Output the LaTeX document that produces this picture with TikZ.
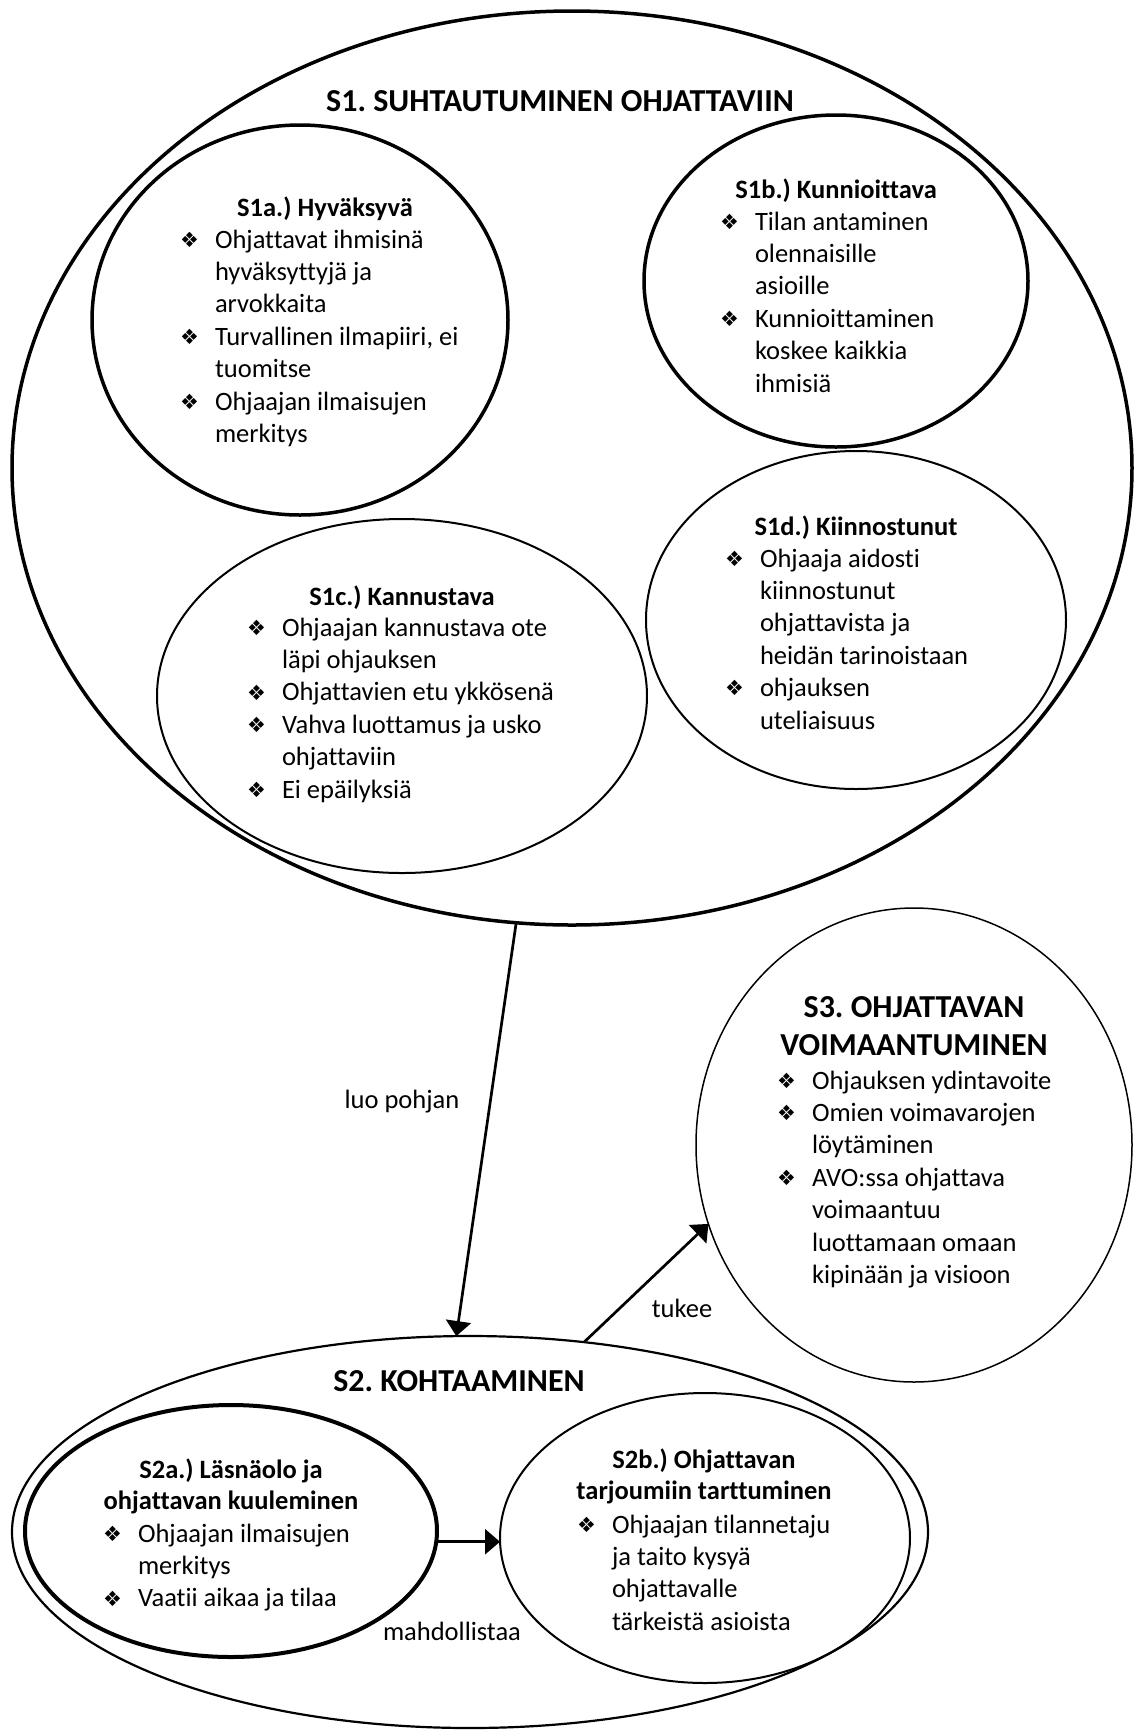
\documentclass[tikz,border=0pt]{standalone}
\usepackage{fontspec}
\setmainfont{Carlito}[Ligatures=CommonOff]
\newfontfamily\dingfont{DejaVu Sans}
\usetikzlibrary{shapes.geometric,arrows.meta}
\frenchspacing

% bullet and continuation indent for the item lists
\newcommand\bl{\makebox[17.5pt][l]{\raisebox{0.4pt}{\dingfont\fontsize{10.5}{10.5}\selectfont ❖}}}
\newcommand\ct{\hspace*{17.5pt}}
\newcommand\lines[1]{\begin{tabular}[t]{@{}l@{}}#1\end{tabular}}
\newcommand\clines[1]{\begin{tabular}[t]{@{}c@{}}#1\end{tabular}}

\tikzset{
  every node/.style={inner sep=0pt, outer sep=0pt},
  oval/.style={ellipse, draw, inner sep=0pt},
  body/.style={font=\fontsize{13.25}{16.2}\selectfont, anchor=base west},
  head/.style={font=\fontsize{13.25}{15.5}\selectfont\bfseries, anchor=base},
  big/.style={font=\fontsize{16}{19}\selectfont\bfseries, anchor=base},
  lbl/.style={font=\fontsize{13.25}{16.2}\selectfont, anchor=base},
  link/.style={line width=1.35pt, -{Triangle[length=7.5pt,width=12.5pt]}},
}

\begin{document}
\begin{tikzpicture}[x=0.5pt, y=-0.5pt]
  \fill[white] (0,0) rectangle (1135,1731);
  \useasboundingbox (0,0) rectangle (1135,1731);

  % S1 group
  \node[oval, line width=1.75pt, minimum width=560pt, minimum height=457pt] (s1) at (572,468) {};
  \node[oval, line width=1.75pt, minimum width=208pt, minimum height=195pt] (s1a) at (300,320) {};
  \node[oval, line width=1.75pt, minimum width=192pt, minimum height=166pt] (s1b) at (836,281) {};
  \node[oval, line width=1pt, minimum width=245pt, minimum height=177pt] (s1c) at (402,696) {};
  \node[oval, line width=1pt, minimum width=210pt, minimum height=169pt] (s1d) at (856,620) {};

  % S3
  \node[oval, line width=0.75pt, minimum width=218pt, minimum height=237pt] (s3) at (914,1145) {};

  % S2 group
  \node[oval, line width=1.1pt, minimum width=458pt, minimum height=196pt] (s2) at (470,1532) {};
  \node[oval, line width=2pt, minimum width=206pt, minimum height=126pt] (s2a) at (231,1531) {};
  \node[oval, line width=1pt, minimum width=205pt, minimum height=145pt] (s2b) at (705,1538) {};

  % connectors
  \draw[link] (s1.263) -- (s2.94);
  \draw[link] (s2.59.5) -- (s3.201);
  \draw[link] (s2a.-3.5) -- (s2a.-3.5 -| s2b.west);

  % texts of S1
  \node[big] (s1-t) at (560,111) {S1. SUHTAUTUMINEN OHJATTAVIIN};

  \node[head] (s1a-t) at (325,216) {S1a.) Hyväksyvä};
  \node[body] (s1a-l) at (180,248) {\lines{\bl Ohjattavat ihmisinä\\ \ct hyväksyttyjä ja\\ \ct arvokkaita\\ \bl Turvallinen ilmapiiri, ei\\ \ct tuomitse\\ \bl Ohjaajan ilmaisujen\\ \ct merkitys}};

  \node[head] (s1b-t) at (836,198) {S1b.) Kunnioittava};
  \node[body] (s1b-l) at (720,230) {\lines{\bl Tilan antaminen\\ \ct olennaisille\\ \ct asioille\\ \bl Kunnioittaminen\\ \ct koskee kaikkia\\ \ct ihmisiä}};

  \node[head] (s1c-t) at (402,605) {S1c.) Kannustava};
  \node[body] (s1c-l) at (247,636) {\lines{\bl Ohjaajan kannustava ote\\ \ct läpi ohjauksen\\ \bl Ohjattavien etu ykkösenä\\ \bl Vahva luottamus ja usko\\ \ct ohjattaviin\\ \bl Ei epäilyksiä}};

  \node[head] (s1d-t) at (856,535) {S1d.) Kiinnostunut};
  \node[body] (s1d-l) at (725,567) {\lines{\bl Ohjaaja aidosti\\ \ct kiinnostunut\\ \ct ohjattavista ja\\ \ct heidän tarinoistaan\\ \bl ohjauksen\\ \ct uteliaisuus}};

  % texts of S3
  \node[big] (s3-t) at (914,1017) {\clines{S3. OHJATTAVAN\\ VOIMAANTUMINEN}};
  \node[body] (s3-l) at (777,1089) {\lines{\bl Ohjauksen ydintavoite\\ \bl Omien voimavarojen\\ \ct löytäminen\\ \bl AVO:ssa ohjattava\\ \ct voimaantuu\\ \ct luottamaan omaan\\ \ct kipinään ja visioon}};

  % texts of S2
  \node[big] (s2-t) at (459,1391) {S2. KOHTAAMINEN};
  \node[head] (s2a-t) at (231,1478) {\clines{S2a.) Läsnäolo ja\\ ohjattavan kuuleminen}};
  \node[body] (s2a-l) at (103,1542) {\lines{\bl Ohjaajan ilmaisujen\\ \ct merkitys\\ \bl Vaatii aikaa ja tilaa}};
  \node[head] (s2b-t) at (704,1468) {\clines{S2b.) Ohjattavan\\ tarjoumiin tarttuminen}};
  \node[body] (s2b-l) at (577,1533) {\lines{\bl Ohjaajan tilannetaju\\ \ct ja taito kysyä\\ \ct ohjattavalle\\ \ct tärkeistä asioista}};

  % connector labels
  \node[lbl] (l-pohja) at (402,1108) {luo pohjan};
  \node[lbl] (l-tukee) at (682,1317) {tukee};
  \node[lbl] (l-mahd) at (452,1640) {mahdollistaa};
\end{tikzpicture}
\end{document}
